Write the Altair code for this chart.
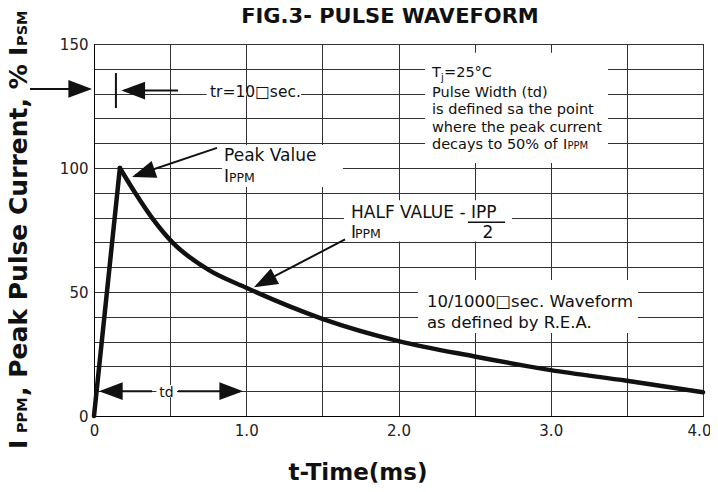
import altair as alt
import pandas as pd

# ---------------- data ----------------
rise_t = [0.0, 0.17]
rise_v = [0.0, 100.0]
decay_t = [0.17, 0.27, 0.38, 0.515, 0.75, 1.0, 1.5, 2.0, 2.5, 3.0, 3.5, 4.0]
decay_v = [100.0, 90.0, 80.0, 70.0, 59.0, 51.7, 39.2, 30.2, 24.0, 18.5, 14.2, 9.6]

x_ticks = [0, 0.5, 1.0, 1.5, 2.0, 2.5, 3.0, 3.5, 4.0]
y_ticks = [0, 10, 20, 30, 40, 50, 60, 70, 80, 90, 100, 110, 120, 130, 140, 150]

title_text = "FIG.3- PULSE WAVEFORM"
x_title_text = "t-Time(ms)"

# y-axis title pieces (large / small caps)
ytitle_big = ["I", ", Peak Pulse Current, %", "I"]
ytitle_big_v = [-13.3, 8.1, 145.2]
ytitle_small = ["PPM", "PSM"]
ytitle_small_v = [-6.9, 149.2]

# annotation texts (data coordinates: t in ms, v in %)
ann17 = ["Peak Value", "I", "HALF VALUE - IPP", "I"]
ann17_t = [0.854, 0.854, 1.688, 1.688]
ann17_v = [102.9, 94.5, 79.7, 71.6]

sub13 = ["PPM", "PPM"]
sub13_t = [0.887, 1.714]
sub13_v = [94.5, 71.6]

tr_text = ["tr=10\u25a1sec."]
tr_t = [0.762]
tr_v = [128.6]

wave_text = ["10/1000\u25a1sec. Waveform", "as defined by R.E.A."]
wave_t = [2.187, 2.187]
wave_v = [44.1, 35.4]

block_text = ["T", "=25\u00b0C", "Pulse Width (td)", "is defined sa the point",
              "where the peak current", "decays to 50% of", "I"]
block_t = [2.22, 2.299, 2.22, 2.22, 2.22, 2.22, 3.08]
block_v = [136.5, 136.5, 128.8, 121.8, 114.6, 107.7, 107.7]
block_sub = ["j", "PPM"]
block_sub_t = [2.279, 3.11]
block_sub_v = [135.0, 107.7]

two_text = ["2"]
two_t = [2.588]
two_v = [71.6]

td_text = ["td"]
td_t = [0.476]
td_v = [7.6]

# white boxes behind the annotation texts
bg_t1 = [0.74, 0.84, 1.642, 2.174, 2.128, 0.41]
bg_t2 = [1.36, 1.635, 2.745, 3.376, 3.573, 0.545]
bg_v1 = [129.3, 92.3, 70.4, 102.0, 33.5, 7.5]
bg_v2 = [130.7, 109.3, 87.0, 146.5, 54.8, 12.5]

# arrow shafts and heads
sh_t1 = [-0.42, 0.552, 0.808, 1.649, 0.05, 0.552, 0.144, 2.456]
sh_v1 = [131.9, 131.2, 108.1, 71.2, 10.0, 10.0, 124.2, 78.1]
sh_t2 = [-0.03, 0.20, 0.27, 1.07, 0.381, 0.96, 0.144, 2.70]
sh_v2 = [131.9, 131.2, 97.0, 52.7, 10.0, 10.0, 138.3, 78.1]
sh_w = [2, 2, 2, 2, 2, 2, 2, 1.5]

hd_t = [-0.013, 0.18, 0.25, 1.051, 0.033, 0.979]
hd_v = [131.9, 131.2, 96.4, 51.9, 10.0, 10.0]
hd_ang = [0, 180, 161.2, 152.2, 180, 0]

title_pos = ([1.944], [158.5])
xtitle_pos = ([1.734], [-25.8])
ytitle_t = -0.437

# ---------------- chart ----------------
FONT = "DejaVu Sans"
XS = alt.Scale(domain=[0, 4], nice=False, zero=False)
YS = alt.Scale(domain=[0, 150], nice=False, zero=False)
ARROW = "M0,0L-2,-0.75L-2,0.75Z"

AXX = alt.Axis(
    values=x_ticks, grid=True, ticks=False, labelPadding=7, labelFont=FONT,
    labelFontSize=15, labelColor="#222", labelFlush=False, labelOverlap=False,
    labelOffset={"condition": {"test": "datum.value == 4", "value": -4}, "value": 0},
    gridColor="#333", gridWidth=1, gridOpacity=1, domainColor="black", title=None,
    labelExpr="datum.value == 0 ? '0' : (datum.value % 1 == 0 ? format(datum.value, '.1f') : '')")
AXY = alt.Axis(
    values=y_ticks, grid=True, ticks=False, labelPadding=6, labelFont=FONT,
    labelFontSize=15, labelColor="#222", labelOverlap=False,
    gridColor="#333", gridWidth=1, gridOpacity=1, domainColor="black", title=None,
    labelExpr="datum.value % 50 == 0 ? datum.label : ''")


def X(field="t"):
    return alt.X(f"{field}:Q", scale=XS, axis=AXX, title=None)


def Y(field="v"):
    return alt.Y(f"{field}:Q", scale=YS, axis=AXY, title=None)


def text_layer(texts, ts, vs, size, align="left", weight="normal", angle=0, color="#111"):
    df = pd.DataFrame({"s": texts, "t": ts, "v": vs})
    return alt.Chart(df).mark_text(
        font=FONT, fontSize=size, align=align, baseline="alphabetic",
        fontWeight=weight, angle=angle, color=color
    ).encode(x=X(), y=Y(), text="s:N")


bg = alt.Chart(pd.DataFrame({"t1": bg_t1, "t2": bg_t2, "v1": bg_v1, "v2": bg_v2})).mark_rect(
    fill="white", strokeWidth=0
).encode(x=X("t1"), x2="t2:Q", y=Y("v1"), y2="v2:Q")

rise = alt.Chart(pd.DataFrame({"t": rise_t, "v": rise_v})).mark_line(
    color="#111", strokeWidth=4.5, strokeCap="round"
).encode(x=X(), y=Y())

decay = alt.Chart(pd.DataFrame({"t": decay_t, "v": decay_v})).mark_line(
    color="#111", strokeWidth=4.5, strokeCap="round", interpolate="monotone"
).encode(x=X(), y=Y())

shafts = alt.Chart(pd.DataFrame({"t1": sh_t1, "t2": sh_t2, "v1": sh_v1, "v2": sh_v2, "w": sh_w})).mark_rule(
    color="#111"
).encode(x=X("t1"), x2="t2:Q", y=Y("v1"), y2="v2:Q", strokeWidth=alt.StrokeWidth("w:Q", scale=None))

heads = alt.Chart(pd.DataFrame({"t": hd_t, "v": hd_v, "a": hd_ang})).mark_point(
    shape=ARROW, filled=True, fill="#111", strokeWidth=0, opacity=1, size=560
).encode(x=X(), y=Y(), angle=alt.Angle("a:Q", scale=None))

layers = [
    bg, rise, decay, shafts, heads,
    text_layer(ann17, ann17_t, ann17_v, 17),
    text_layer(sub13, sub13_t, sub13_v, 12.5),
    text_layer(tr_text, tr_t, tr_v, 15.5),
    text_layer(wave_text, wave_t, wave_v, 16.5),
    text_layer(block_text, block_t, block_v, 14.5),
    text_layer(block_sub, block_sub_t, block_sub_v, 10),
    text_layer(two_text, two_t, two_v, 17, align="center"),
    text_layer(td_text, td_t, td_v, 14, align="center"),
    text_layer([title_text], title_pos[0], title_pos[1], 21, align="center", weight="bold"),
    text_layer([x_title_text], xtitle_pos[0], xtitle_pos[1], 23, align="center", weight="bold"),
    text_layer(ytitle_big, [ytitle_t] * 3, ytitle_big_v, 25, weight="bold", angle=270),
    text_layer(ytitle_small, [ytitle_t] * 2, ytitle_small_v, 14.5, weight="bold", angle=270),
]

chart = alt.layer(*layers).properties(
    width=609, height=372,
    autosize=alt.AutoSizeParams(type="none"),
    padding={"left": 86, "top": 36, "right": 7, "bottom": 68},
    background="white",
).configure_view(stroke="black", strokeWidth=1)

chart.save("out.html", embed_options={"renderer": "svg", "actions": False})
